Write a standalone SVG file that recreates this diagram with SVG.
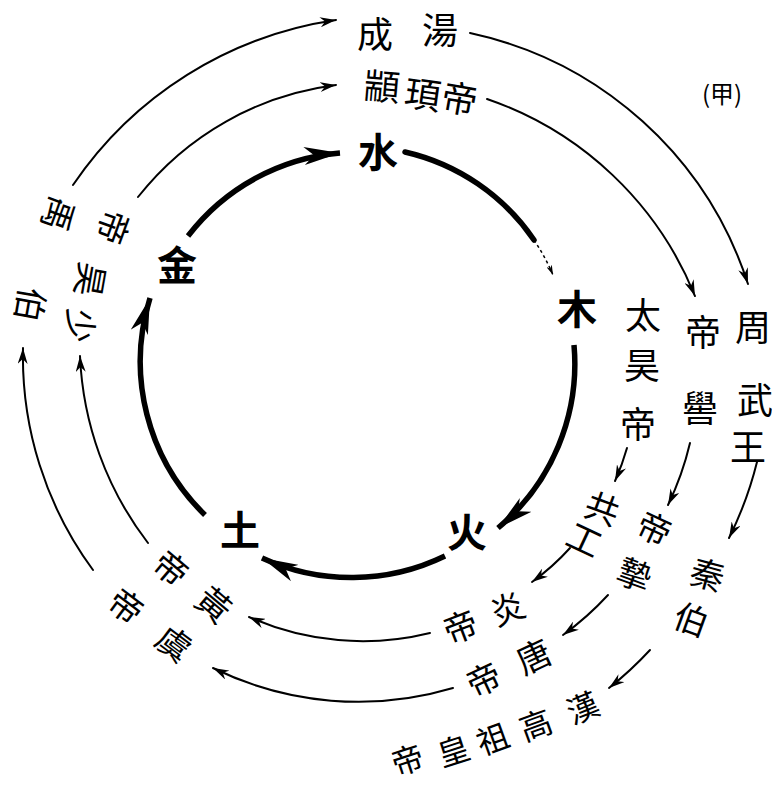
<svg xmlns="http://www.w3.org/2000/svg" width="772" height="785" viewBox="0 0 772 785">
<defs>
<style>
.t{font-family:"Noto Sans CJK TC","Noto Sans CJK SC",sans-serif;fill:#000;text-anchor:middle;dominant-baseline:central}
.s36{font-size:36px}
.s40{font-size:40px;font-weight:bold}
.s34{font-size:34px}
.s32{font-size:32px}
.thin{fill:none;stroke:#000;stroke-width:2;stroke-linecap:round;marker-end:url(#ah)}
.thick{fill:none;stroke:#000;stroke-width:5.5;stroke-linecap:butt;marker-end:url(#AH)}
</style>
<marker id="ah" viewBox="0 0 16 10" refX="16" refY="5" markerWidth="16" markerHeight="10" markerUnits="userSpaceOnUse" orient="auto"><path d="M0,0 L16,5 L0,10 L5,5 Z" fill="#000"/></marker>
<marker id="AH" viewBox="0 0 36 18" refX="36" refY="9" markerWidth="36" markerHeight="18" markerUnits="userSpaceOnUse" orient="auto"><path d="M0,0 L36,9 L0,18 L10,9 Z" fill="#000"/></marker>
<marker id="sa" viewBox="0 0 10 6" refX="10" refY="3" markerWidth="10" markerHeight="6" markerUnits="userSpaceOnUse" orient="auto"><path d="M0,0 L10,3 L0,6 L3,3 Z" fill="#000"/></marker>
</defs>
<rect width="772" height="785" fill="#fff"/>
<g id="connectors">
<path class="thin" d="M73,185 A385,385 0 0 1 336,20"/>
<path class="thin" d="M470,33 A375,375 0 0 1 748,284"/>
<path class="thin" d="M757,462 A370,370 0 0 1 729,538"/>
<path class="thin" d="M650,650 A360,360 0 0 1 609,688"/>
<path class="thin" d="M487,99 A345,345 0 0 1 695,296"/>
<path class="thin" d="M690,443 A300,300 0 0 1 668,505"/>
<path class="thin" d="M608,595 A300,300 0 0 1 563,635"/>
<path class="thin" d="M453,688 A330,330 0 0 1 213,668"/>
<path class="thin" d="M93,570 A360,360 0 0 1 23,348"/>
<path class="thin" d="M627,448 A240,240 0 0 1 615,481"/>
<path class="thin" d="M570,548 A240,240 0 0 1 532,582"/>
<path class="thin" d="M430,633 A280,280 0 0 1 249,617"/>
<path class="thin" d="M148,543 A330,330 0 0 1 80,356"/>
<path class="thin" d="M138,197 A300,300 0 0 1 336,85"/>
<path class="thick" d="M188,236 A214,214 0 0 1 340,153"/>
<path fill="none" stroke="#000" stroke-width="5.5" stroke-linecap="round" d="M405,152 A214,214 0 0 1 534,240"/>
<path fill="none" stroke="#000" stroke-width="1.5" stroke-dasharray="3,3" marker-end="url(#sa)" d="M534,240 A214,214 0 0 1 553,275"/>
<path class="thick" d="M574,345 A214,214 0 0 1 498,528"/>
<path class="thick" d="M445,556 A214,214 0 0 1 262,558"/>
<path class="thick" d="M205,515 A214,214 0 0 1 150,298"/>
</g>
<g id="n-shui"><text class="t s40" transform="translate(378,150)">水</text></g>
<g id="n-mu"><text class="t s40" transform="translate(577,307)">木</text></g>
<g id="n-huo"><text class="t s40" transform="translate(467,530)">火</text></g>
<g id="n-tu"><text class="t s40" transform="translate(240,528)">土</text></g>
<g id="n-jin"><text class="t s40" transform="translate(177,263)">金</text></g>
<g id="n-taihao">
<text class="t s36" transform="translate(643,313)">太</text>
<text class="t s36" transform="translate(642,363)">昊</text>
<text class="t s36" transform="translate(638,422)">帝</text>
</g>
<g id="n-gonggong">
<text class="t s34" transform="translate(603,507) rotate(20)">共</text>
<text class="t s34" transform="translate(585,538) rotate(25)">工</text>
</g>
<g id="n-yandi">
<text class="t s34" transform="translate(507,607) rotate(-21)">炎</text>
<text class="t s34" transform="translate(460,625) rotate(-21)">帝</text>
</g>
<g id="n-huangdi">
<text class="t s34" transform="translate(215,603) rotate(40)">黃</text>
<text class="t s34" transform="translate(172,567) rotate(40)">帝</text>
</g>
<g id="n-shaohao">
<text class="t s34" transform="translate(82,326) rotate(95)">少</text>
<text class="t s34" transform="translate(92,280) rotate(100)">昊</text>
<text class="t s34" transform="translate(115,228) rotate(110)">帝</text>
</g>
<g id="n-zhuanxu">
<text class="t s36" transform="translate(382,84) rotate(5)">顓</text>
<text class="t s36" transform="translate(423,92) rotate(8)">頊</text>
<text class="t s36" transform="translate(460,96) rotate(10)">帝</text>
</g>
<g id="n-diku">
<text class="t s36" transform="translate(703,330)">帝</text>
<text class="t s36" transform="translate(700,406)">嚳</text>
</g>
<g id="n-dizhi">
<text class="t s34" transform="translate(655,527) rotate(25)">帝</text>
<text class="t s34" transform="translate(635,573) rotate(20)">摯</text>
</g>
<g id="n-tangdi">
<text class="t s34" transform="translate(533,655) rotate(-25)">唐</text>
<text class="t s34" transform="translate(483,678) rotate(-25)">帝</text>
</g>
<g id="n-yudi">
<text class="t s34" transform="translate(175,642) rotate(37)">虞</text>
<text class="t s34" transform="translate(127,605) rotate(37)">帝</text>
</g>
<g id="n-boyu">
<text class="t s34" transform="translate(32,305) rotate(100)">伯</text>
<text class="t s34" transform="translate(60,215) rotate(110)">禹</text>
</g>
<g id="n-chengtang">
<text class="t s36" transform="translate(375,32)">成</text>
<text class="t s36" transform="translate(440,28)">湯</text>
</g>
<g id="n-zhouwuwang">
<text class="t s36" transform="translate(753,325)">周</text>
<text class="t s36" transform="translate(755,398)">武</text>
<text class="t s36" transform="translate(748,445)">王</text>
</g>
<g id="n-qinbo">
<text class="t s34" transform="translate(708,573) rotate(15)">秦</text>
<text class="t s34" transform="translate(692,618) rotate(20)">伯</text>
</g>
<g id="n-hangaozu">
<text class="t s32" transform="translate(582,706) rotate(-22)">漢</text>
<text class="t s32" transform="translate(535,723) rotate(-20)">高</text>
<text class="t s32" transform="translate(492,737) rotate(-20)">祖</text>
<text class="t s32" transform="translate(453,749) rotate(-18)">皇</text>
<text class="t s32" transform="translate(407,758) rotate(-18)">帝</text>
</g>
<g id="n-jia"><text class="t" style="font-size:24px" transform="translate(722,92)">(甲)</text></g>
</svg>
